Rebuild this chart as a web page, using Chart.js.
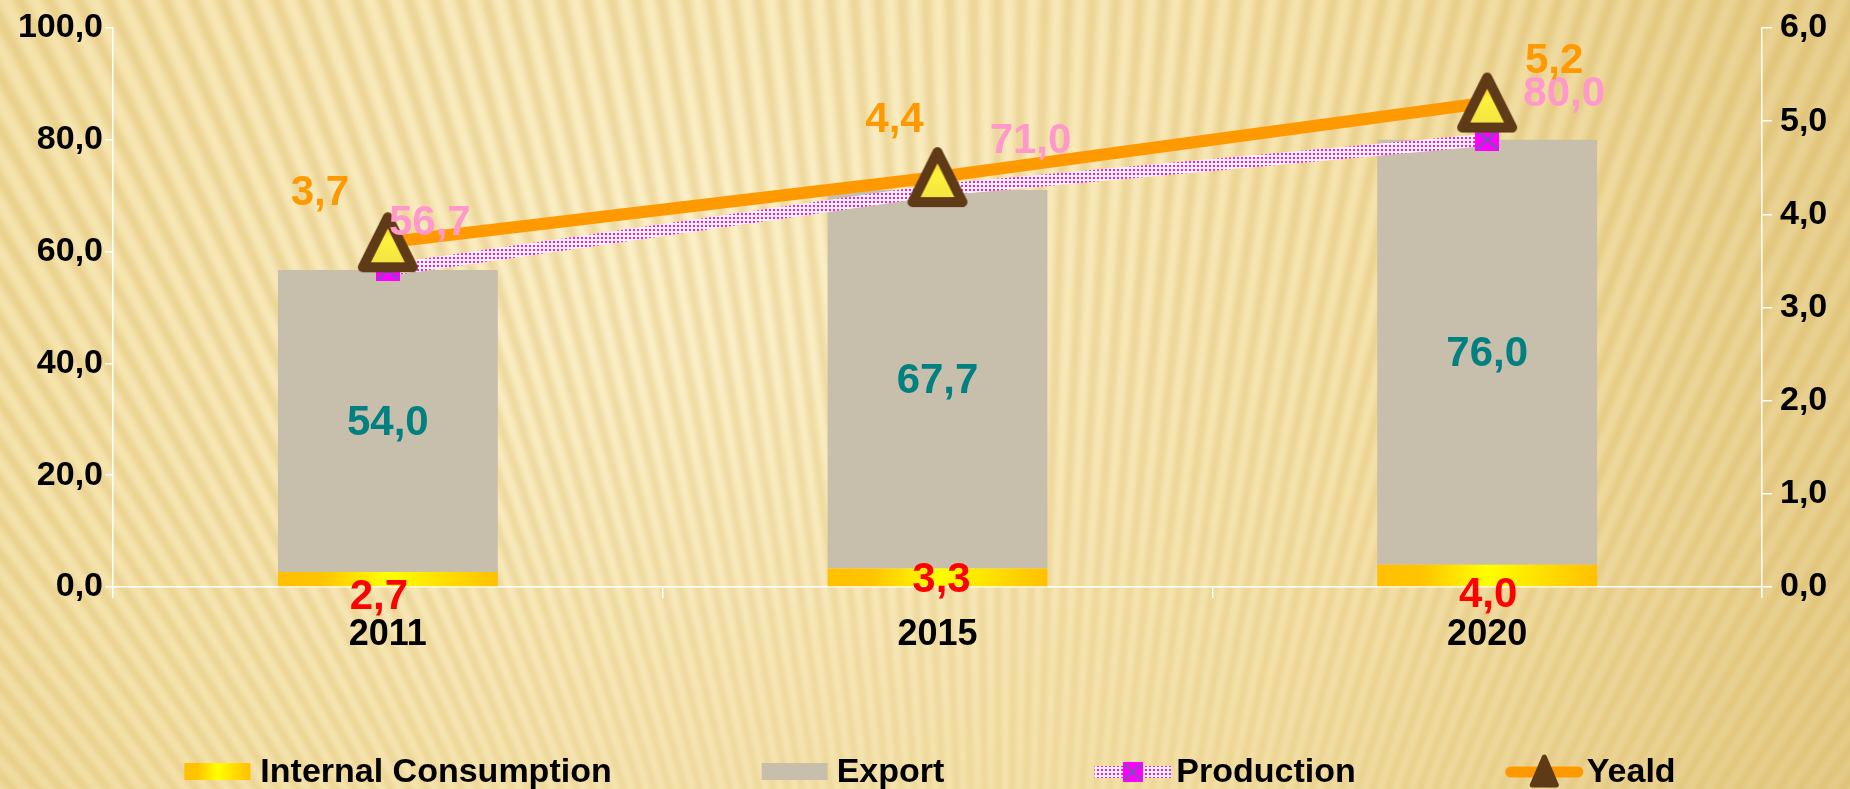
<!DOCTYPE html>
<html>
<head>
<meta charset="utf-8">
<script src="https://cdn.jsdelivr.net/npm/chart.js@4.4.1/dist/chart.umd.min.js"></script>
<style>
html,body{margin:0;padding:0;background:#EFDCA2;overflow:hidden}
#wrap{width:1850px;height:789px}
canvas{display:block}
</style>
</head>
<body>
<div id="wrap"><canvas id="c" width="1850" height="789"></canvas></div>
<script>
// ---- data ----
const categories = ['2011', '2015', '2020'];
const internalConsumption = [2.7, 3.3, 4.0];
const exportValues = [54.0, 67.7, 76.0];
const production = [56.7, 71.0, 80.0];
const yeald = [3.7, 4.4, 5.2];
const leftTicks = [0, 20, 40, 60, 80, 100];
const rightTicks = [0, 1, 2, 3, 4, 5, 6];
const seriesNames = ['Internal Consumption', 'Export', 'Production', 'Yeald'];

// ---- styles ----
const FONT = "'Liberation Sans', Arial, sans-serif";
const fmt = v => Number(v).toFixed(1).replace('.', ',');
const canvas = document.getElementById('c');
const mainCtx = canvas.getContext('2d');

const dotPattern = (() => {
  const t = document.createElement('canvas'); t.width = 4; t.height = 4;
  const g = t.getContext('2d');
  g.fillStyle = '#FFF2FB'; g.fillRect(0, 0, 4, 4);
  g.fillStyle = '#EE1CDA'; g.fillRect(1, 1, 2, 2);
  return mainCtx.createPattern(t, 'repeat');
})();

const squareImg = (() => {
  const c = document.createElement('canvas'); c.width = 24; c.height = 22;
  const g = c.getContext('2d');
  g.fillStyle = '#FF00FF'; g.fillRect(0, 0, 24, 22);
  g.strokeStyle = '#5C62A6'; g.lineWidth = 2;
  g.beginPath(); g.moveTo(2, 2); g.lineTo(22, 20); g.moveTo(22, 2); g.lineTo(2, 20); g.stroke();
  return c;
})();

const triImg = (() => {
  const c = document.createElement('canvas'); c.width = 62; c.height = 62;
  const g = c.getContext('2d');
  g.lineJoin = 'round';
  g.beginPath(); g.moveTo(31, 6); g.lineTo(56, 56); g.lineTo(6, 56); g.closePath();
  const gr = g.createLinearGradient(0, 12, 0, 56);
  gr.addColorStop(0, '#F9C81E'); gr.addColorStop(0.35, '#FFF23C'); gr.addColorStop(1, '#F3E244');
  g.fillStyle = gr; g.fill();
  g.strokeStyle = '#5E3B16'; g.lineWidth = 10; g.stroke();
  return c;
})();

function icGradient(ctx) {
  const chart = ctx.chart;
  const xs = chart.scales && chart.scales.x;
  if (!xs || ctx.dataIndex === undefined) return '#FFC000';
  const cx = xs.getPixelForValue(ctx.dataIndex);
  const half = xs.width / categories.length * 0.4 / 2;
  if (!isFinite(cx) || !isFinite(half) || half <= 0) return '#FFC000';
  const g = chart.ctx.createLinearGradient(cx - half, 0, cx + half, 0);
  g.addColorStop(0, '#FFC000');
  g.addColorStop(0.2, '#FFC400');
  g.addColorStop(0.5, '#FFFF00');
  g.addColorStop(0.85, '#FFD200');
  g.addColorStop(1, '#FFC000');
  return g;
}

// ---- plugins ----
const bgPlugin = {
  id: 'bg',
  beforeDraw(chart) {
    const c = chart.ctx, W = chart.width, H = chart.height;
    c.save();
    const g = c.createRadialGradient(700, 300, 60, 700, 300, 1350);
    g.addColorStop(0, '#FCF1CA');
    g.addColorStop(0.5, '#F6E4AD');
    g.addColorStop(1, '#E2C883');
    c.fillStyle = g; c.fillRect(0, 0, W, H);
    const cx = 1000, cy = 1900, R = 2800;
    c.filter = 'blur(3px)';
    c.fillStyle = 'rgba(212,172,80,0.36)';
    for (let a = -2.4; a < -0.85; a += 0.0125) {
      c.beginPath();
      c.moveTo(cx, cy);
      c.lineTo(cx + Math.cos(a) * R, cy + Math.sin(a) * R);
      c.lineTo(cx + Math.cos(a + 0.0055) * R, cy + Math.sin(a + 0.0055) * R);
      c.closePath();
      c.fill();
    }
    c.filter = 'none';
    c.restore();
  }
};

const valueLabels = {
  id: 'valueLabels',
  afterDatasetsDraw(chart, args, opts) {
    const c = chart.ctx;
    c.save();
    c.textAlign = 'center';
    c.textBaseline = 'middle';
    opts.items.forEach(item => {
      const meta = chart.getDatasetMeta(item.dataset);
      const data = chart.data.datasets[item.dataset].data;
      c.font = 'bold ' + item.size + 'px ' + FONT;
      c.fillStyle = item.color;
      meta.data.forEach((el, i) => {
        let x = el.x, y = el.y;
        if (item.barCenter) y = (el.y + el.base) / 2;
        const o = item.offsets[i];
        c.fillText(fmt(data[i]), x + o[0], y + o[1]);
      });
    });
    c.restore();
  }
};

const customLegend = {
  id: 'customLegend',
  afterDraw(chart, args, opts) {
    const c = chart.ctx;
    c.save();
    c.font = 'bold ' + opts.size + 'px ' + FONT;
    c.textBaseline = 'middle';
    c.textAlign = 'left';
    const items = chart.data.datasets.map((ds, i) => ({
      text: ds.label, w: opts.sampleW[i], gap: opts.textGap[i], tw: c.measureText(ds.label).width, i
    }));
    let total = 0;
    items.forEach((it, k) => { total += it.w + it.gap + it.tw + (k ? opts.itemGap : 0); });
    let x = opts.centerX - total / 2;
    const y = opts.y;
    items.forEach((it, k) => {
      if (k) x += opts.itemGap;
      const ds = chart.data.datasets[it.i];
      if (it.i === 0) {
        const g = c.createLinearGradient(x, 0, x + it.w, 0);
        g.addColorStop(0, '#FFC000'); g.addColorStop(0.2, '#FFC400'); g.addColorStop(0.5, '#FFFF00');
        g.addColorStop(0.85, '#FFD200'); g.addColorStop(1, '#FFC000');
        c.fillStyle = g; c.fillRect(x, y - 9, it.w, 17);
      } else if (it.i === 1) {
        c.fillStyle = ds.backgroundColor; c.fillRect(x, y - 9, it.w, 17);
      } else if (it.i === 2) {
        c.fillStyle = dotPattern; c.fillRect(x, y - 6, it.w, 12);
        c.drawImage(squareImg, x + it.w / 2 - 10, y - 10, 20, 20);
      } else {
        c.strokeStyle = ds.borderColor; c.lineWidth = 11; c.lineCap = 'round';
        c.beginPath(); c.moveTo(x + 5, y); c.lineTo(x + it.w - 5, y); c.stroke();
        const tx = x + it.w / 2;
        c.fillStyle = '#5E3B16'; c.strokeStyle = '#5E3B16'; c.lineWidth = 5; c.lineJoin = 'round';
        c.beginPath(); c.moveTo(tx, y - 15); c.lineTo(tx + 12, y + 13); c.lineTo(tx - 12, y + 13); c.closePath();
        c.fill(); c.stroke();
      }
      x += it.w + it.gap;
      c.fillStyle = '#000';
      c.fillText(it.text, x, y + 1);
      x += it.tw;
    });
    c.restore();
  }
};

const tickFontY = { family: FONT, size: 34, weight: 'bold' };

new Chart(canvas, {
  type: 'bar',
  data: {
    labels: categories,
    datasets: [
      { label: seriesNames[0], data: internalConsumption, backgroundColor: icGradient, borderWidth: 0,
        stack: 'bars', order: 3, yAxisID: 'y', categoryPercentage: 1, barPercentage: 0.4 },
      { label: seriesNames[1], data: exportValues, backgroundColor: '#C7BEAB', borderWidth: 0,
        stack: 'bars', order: 3, yAxisID: 'y', categoryPercentage: 1, barPercentage: 0.4 },
      { type: 'line', label: seriesNames[2], data: production, borderColor: dotPattern, borderWidth: 12,
        pointStyle: squareImg, pointRadius: 12, pointBorderWidth: 0, fill: false, tension: 0,
        yAxisID: 'y', stack: 'prod', order: 2 },
      { type: 'line', label: seriesNames[3], data: yeald, borderColor: '#FF9900', borderWidth: 12,
        pointStyle: triImg, pointRadius: 28, pointBorderWidth: 0, fill: false, tension: 0,
        yAxisID: 'y1', order: 1 }
    ]
  },
  options: {
    responsive: false,
    animation: false,
    devicePixelRatio: 1,
    layout: { padding: { left: 0, right: 0, top: 24, bottom: 142 } },
    plugins: {
      legend: { display: false },
      tooltip: { enabled: false },
      valueLabels: {
        items: [
          { dataset: 0, color: '#FF0000', size: 42, barCenter: true, offsets: [[-9, 18], [4, 3], [1, 20]] },
          { dataset: 1, color: '#008080', size: 42, barCenter: true, offsets: [[0, 2], [0, 2], [0, 2]] },
          { dataset: 2, color: '#FF99CC', size: 42, offsets: [[42, -47], [93, -49], [77, -45]] },
          { dataset: 3, color: '#FF9900', size: 42, offsets: [[-68, -49], [-43, -57], [67, -41]] }
        ]
      },
      customLegend: {
        size: 34, y: 772, centerX: 930, itemGap: 150,
        sampleW: [66, 66, 77, 77], textGap: [10, 9, 5, 4]
      }
    },
    scales: {
      x: {
        stacked: true,
        offset: true,
        grid: { display: true, drawOnChartArea: false, drawTicks: true, tickLength: 11,
                color: '#FFFFFF', lineWidth: 1.5, offset: true },
        border: { display: true, color: '#FFFFFF', width: 1.5 },
        ticks: { color: '#000', font: { family: FONT, size: 36, weight: 'bold' }, padding: 15, maxRotation: 0 },
        afterFit(s) { s.height = 60; }
      },
      y: {
        position: 'left',
        stacked: true,
        min: leftTicks[0],
        max: leftTicks[leftTicks.length - 1],
        afterBuildTicks(s) { s.ticks = leftTicks.map(v => ({ value: v })); },
        ticks: { callback: v => fmt(v), color: '#000', font: tickFontY, padding: 2 },
        grid: { drawOnChartArea: false, tickLength: 8, color: '#FFFFFF', lineWidth: 1.5 },
        border: { display: true, color: '#FFFFFF', width: 1.5 },
        afterFit(s) { s.width = 113; s.paddingTop = 0; s.paddingBottom = 0; }
      },
      y1: {
        position: 'right',
        min: rightTicks[0],
        max: rightTicks[rightTicks.length - 1],
        afterBuildTicks(s) { s.ticks = rightTicks.map(v => ({ value: v })); },
        ticks: { callback: v => fmt(v), color: '#000', font: tickFontY, padding: 8 },
        grid: { drawOnChartArea: false, tickLength: 10, color: '#FFFFFF', lineWidth: 1.5 },
        border: { display: true, color: '#FFFFFF', width: 1.5 },
        afterFit(s) { s.width = 88; s.paddingTop = 0; s.paddingBottom = 0; }
      }
    }
  },
  plugins: [bgPlugin, valueLabels, customLegend]
});
</script>
</body>
</html>
